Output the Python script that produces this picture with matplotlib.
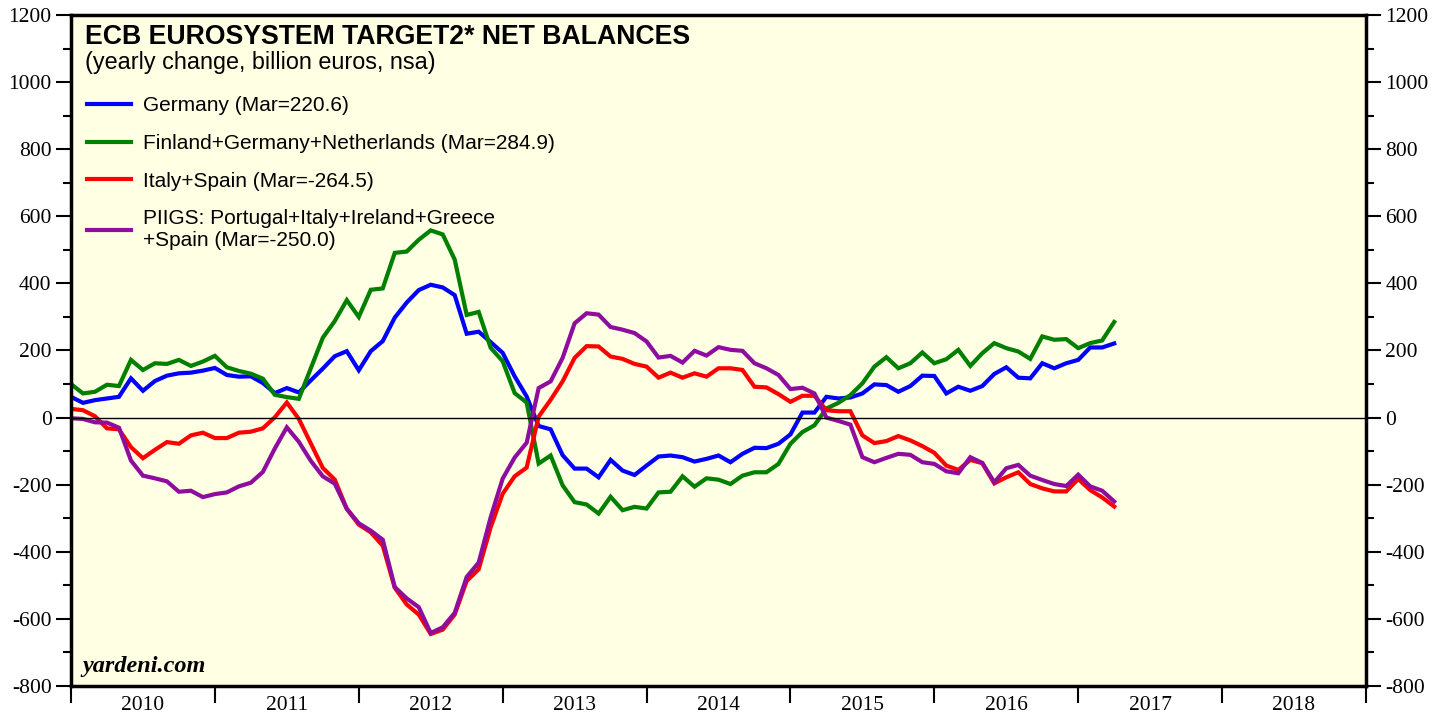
import numpy as np
import matplotlib
matplotlib.use("Agg")
import matplotlib.pyplot as plt
from matplotlib.ticker import MultipleLocator, FixedLocator, NullFormatter

plt.rcParams["axes.unicode_minus"] = False

# ============== DATA (yearly change, billion euros, monthly from 2010) ==============
germany = [62, 44, 52, 57, 62, 117, 80, 109, 125, 132, 134, 140, 148, 127, 122,
           123, 103, 73, 88, 75, 111, 146, 183, 198, 141, 198, 228, 298, 343, 380,
           396, 388, 365, 250, 256, 225, 193, 123, 63, -25, -35, -112, -152, -152,
           -178, -126, -158, -171, -143, -116, -113, -118, -131, -123, -113, -133, -108, -90, -91,
           -78, -50, 15, 15, 62, 57, 60, 72, 99, 97, 77, 94, 125, 124,
           72, 92, 80, 94, 130, 150, 119, 117, 162, 147, 162, 172, 209, 209, 221]

fin_ger_neth = [100, 72, 77, 98, 94, 172, 142, 162, 160, 172, 154, 167, 184, 150, 139,
                131, 116, 68, 61, 56, 147, 238, 288, 350, 300, 381, 385, 491, 495, 530,
                558, 546, 471, 306, 315, 208, 168, 73, 45, -137, -113, -202, -252, -259,
                -286, -236, -276, -266, -271, -223, -221, -175, -206, -181, -185, -198, -173, -163, -163,
                -138, -78, -43, -23, 27, 44, 67, 102, 152, 180, 147, 162, 194, 162,
                174, 202, 154, 192, 222, 207, 197, 175, 242, 232, 234, 207, 222, 230, 285]

italy_spain = [26, 22, 4, -32, -35, -88, -121, -96, -73, -78, -53, -45, -61, -61, -45,
               -42, -32, 1, 45, -4, -77, -150, -185, -272, -319, -342, -382, -507, -557, -587,
               -645, -632, -587, -487, -452, -327, -227, -175, -149, 3, 53, 108, 178, 213,
               212, 182, 175, 160, 152, 119, 134, 119, 132, 122, 147, 147, 142, 92, 90,
               70, 47, 65, 65, 22, 19, 19, -53, -76, -70, -55, -68, -85, -105,
               -143, -156, -126, -136, -196, -178, -163, -198, -211, -220, -220, -183, -216, -238, -265]

piigs = [-2, -4, -14, -15, -30, -128, -173, -181, -190, -221, -218, -237, -228, -223, -205,
         -194, -162, -92, -29, -72, -129, -175, -197, -272, -315, -337, -364, -505, -539, -565,
         -642, -625, -582, -475, -432, -297, -182, -119, -75, 88, 108, 178, 281, 311,
         307, 270, 262, 252, 227, 179, 184, 164, 199, 185, 210, 202, 199, 162, 147,
         127, 85, 89, 72, 0, -10, -21, -118, -133, -120, -108, -111, -133, -138,
         -160, -166, -118, -135, -193, -151, -141, -173, -186, -198, -204, -170, -205, -218, -250]

labels = ["Germany (Mar=220.6)",
          "Finland+Germany+Netherlands (Mar=284.9)",
          "Italy+Spain (Mar=-264.5)",
          "PIIGS: Portugal+Italy+Ireland+Greece\n+Spain (Mar=-250.0)"]
colors = ["#0000ff", "#007f00", "#ff0000", "#8e0c9e"]
years = list(range(2010, 2019))

# month positions as fractional years
x = 2010 + np.arange(len(germany)) / 12

# ============== PLOT ==============
fig = plt.figure(figsize=(14.48, 7.17), dpi=100)
ax = fig.add_axes([71 / 1448, 31 / 717, 1295 / 1448, 671 / 717])
ax.set_facecolor("#ffffe4")

for series, lab, col in zip([germany, fin_ger_neth, italy_spain, piigs], labels, colors):
    ax.plot(x, series, color=col, lw=3, label=lab, solid_joinstyle="miter")

ax.axhline(0, color="black", lw=1)

ax.set_xlim(2010, 2019)
ax.set_ylim(-800, 1200)

# y axis: labels both sides, serif
ax.yaxis.set_major_locator(MultipleLocator(200))
ax.yaxis.set_minor_locator(MultipleLocator(100))
ax.tick_params(axis="y", which="both", direction="out", left=True, right=True,
               labelleft=True, labelright=True, width=1.5, labelsize=15.5, pad=3)
ax.tick_params(axis="y", which="major", length=11)
ax.tick_params(axis="y", which="minor", length=6)

# x axis: ticks at year boundaries, labels centred in each year
ax.xaxis.set_major_locator(FixedLocator(years + [2019]))
ax.xaxis.set_major_formatter(NullFormatter())
ax.xaxis.set_minor_locator(FixedLocator([y + 0.5 for y in years]))
ax.set_xticklabels([str(y) for y in years], minor=True)
ax.tick_params(axis="x", which="major", direction="out", length=12, width=1.5)
ax.tick_params(axis="x", which="minor", length=0, labelsize=15.5, pad=7)

for t in ax.xaxis.get_minor_ticks():
    t.label1.set_family("Liberation Serif")
for t in ax.yaxis.get_major_ticks():
    t.label1.set_family("Liberation Serif")
    t.label2.set_family("Liberation Serif")

for side in ["left", "right", "top", "bottom"]:
    ax.spines[side].set_linewidth(2.5)

# title block
ax.text(0.011, 0.987, "ECB EUROSYSTEM TARGET2* NET BALANCES", transform=ax.transAxes,
        fontsize=19.2, fontweight="bold", family="Liberation Sans", va="top", ha="left")
ax.text(0.011, 0.946, "(yearly change, billion euros, nsa)", transform=ax.transAxes,
        fontsize=16.8, family="Liberation Sans", va="top", ha="left")

leg = ax.legend(loc="upper left", bbox_to_anchor=(-0.002, 0.907), frameon=False,
                prop={"family": "Liberation Sans", "size": 15}, handlelength=2.1,
                handletextpad=0.6, labelspacing=0.9)
for line in leg.get_lines():
    line.set_linewidth(3)

ax.text(0.009, 0.014, "yardeni.com", transform=ax.transAxes, fontsize=17.5,
        family="Liberation Serif", style="italic", fontweight="bold", va="bottom", ha="left")

fig.savefig("out.png", dpi=100)
